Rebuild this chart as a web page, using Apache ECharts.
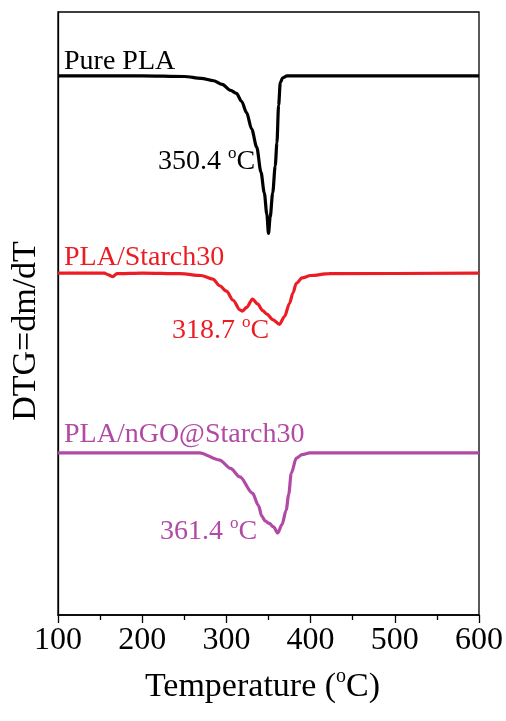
<!DOCTYPE html>
<html>
<head>
<meta charset="utf-8">
<script src="https://cdn.jsdelivr.net/npm/echarts@6/dist/echarts.min.js"></script>
<style>html,body{margin:0;padding:0;background:#fff}#c{width:506px;height:721px}</style>
</head>
<body>
<div id="c"></div>
<script>
// Temperature (°C) and offset DTG values (arbitrary units)
var tempPure = [100,200,250,270,285,295,305,312,318,324,330,336,341,345,348,350,352,355,358,360,362,364,367,372,400,600];
var dtgPure  = [89.4,89.4,89.3,89.0,88.6,88.0,87.0,86.5,85.2,83.3,80.6,77.6,73.5,70.0,66.5,63.3,66.0,70.0,74.5,78.3,84.5,88.3,89.1,89.4,89.4,89.4];

var tempStarch = [100,155,160,165,170,200,245,270,284,292,300,308,316,319,324,331,337,343,348,355,363,369,375,379,383,390,400,422,600];
var dtgStarch  = [56.7,56.7,56.4,56.1,56.6,56.7,56.6,56.3,55.7,54.6,53.7,52.2,50.6,50.4,51.0,52.4,51.6,50.5,49.9,49.0,48.2,49.5,51.7,53.4,55.0,55.9,56.3,56.6,56.7];

var tempNGO = [100,268,292,305,316,331,338,342,346,351,356,361,366,371,374,377,383,390,399,600];
var dtgNGO  = [26.9,26.9,25.7,24.3,22.9,20.2,18.2,16.4,15.6,15.2,14.6,13.6,15.0,17.4,20.0,23.5,26.0,26.6,26.9,26.9];

var seriesNames = ['Pure PLA','PLA/Starch30','PLA/nGO@Starch30'];
var peakLabels = ['350.4 ','318.7 ','361.4 '];
var xTicks = [100,200,300,400,500,600];

var colors = ['#000000','#ec1c24','#b04aa4'];
var FONT = '"Liberation Serif","Times New Roman",serif';

function pairs(t, v){ return t.map(function(x,i){ return [x, v[i]]; }); }

var chart = echarts.init(document.getElementById('c'), null, {renderer:'canvas'});

function supText(main, x, y, color){
  return {
    type:'text', x:x, y:y, z:100,
    style:{
      text:'{n|' + main + '}{s|o}{n|C}',
      fill:color, font:'28px ' + FONT,
      verticalAlign:'middle', align:'left',
      rich:{
        n:{fontSize:28, fontFamily:FONT, fill:color, lineHeight:34},
        s:{fontSize:17, fontFamily:FONT, fill:color, lineHeight:34, verticalAlign:'top'}
      }
    }
  };
}
function plainText(t, x, y, color){
  return { type:'text', x:x, y:y, z:100,
    style:{ text:t, fill:color, font:'28px ' + FONT, verticalAlign:'middle', align:'left' } };
}

var option = {
  backgroundColor:'#fff',
  animation:false,
  grid:{left:58, right:26, top:12, bottom:106, show:true, borderColor:'#000', borderWidth:1.3, backgroundColor:'transparent'},
  xAxis:{
    type:'value', min:100, max:600, interval:100,
    axisLine:{show:true, onZero:false, lineStyle:{color:'#000', width:1.5}},
    axisTick:{show:true, inside:false, length:8, lineStyle:{color:'#000', width:1.3}},
    minorTick:{show:true, splitNumber:2, length:5, lineStyle:{color:'#000', width:1.3}},
    splitLine:{show:false},
    axisLabel:{color:'#000', fontSize:32, fontFamily:FONT, margin:10,
      formatter:function(v){ return xTicks.indexOf(v) >= 0 ? String(v) : ''; }},
    name:'Temperature ({s|o}C)', nameLocation:'middle', nameGap:52,
    nameTextStyle:{color:'#000', fontSize:34, fontFamily:FONT, padding:[0,12,0,0],
      rich:{s:{fontSize:20, fontFamily:FONT, color:'#000', verticalAlign:'top', lineHeight:40}}}
  },
  yAxis:{
    type:'value', min:0, max:100,
    axisLine:{show:true, lineStyle:{color:'#000', width:1.3}},
    axisTick:{show:false}, axisLabel:{show:false}, splitLine:{show:false}
  },
  series:[
    {name:seriesNames[0], type:'line', data:pairs(tempPure, dtgPure), showSymbol:false, smooth:0.3, smoothMonotone:'x', lineStyle:{color:colors[0], width:3.2}, itemStyle:{color:colors[0]}},
    {name:seriesNames[1], type:'line', data:pairs(tempStarch, dtgStarch), showSymbol:false, smooth:0.3, smoothMonotone:'x', lineStyle:{color:colors[1], width:3.2}, itemStyle:{color:colors[1]}},
    {name:seriesNames[2], type:'line', data:pairs(tempNGO, dtgNGO), showSymbol:false, smooth:0.3, smoothMonotone:'x', lineStyle:{color:colors[2], width:3.2}, itemStyle:{color:colors[2]}}
  ],
  graphic:[
    plainText(seriesNames[0], 64, 62, colors[0]),
    plainText(seriesNames[1], 64, 258, colors[1]),
    plainText(seriesNames[2], 64, 435, colors[2]),
    supText(peakLabels[0], 158, 162, colors[0]),
    supText(peakLabels[1], 172, 331, colors[1]),
    supText(peakLabels[2], 160, 532, colors[2]),
    { type:'text', x:26, y:331, rotation:Math.PI/2, z:100,
      style:{ text:'DTG=dm/dT', fill:'#000', font:'34px ' + FONT, align:'center', verticalAlign:'middle' } }
  ]
};
chart.setOption(option);
</script>
</body>
</html>
